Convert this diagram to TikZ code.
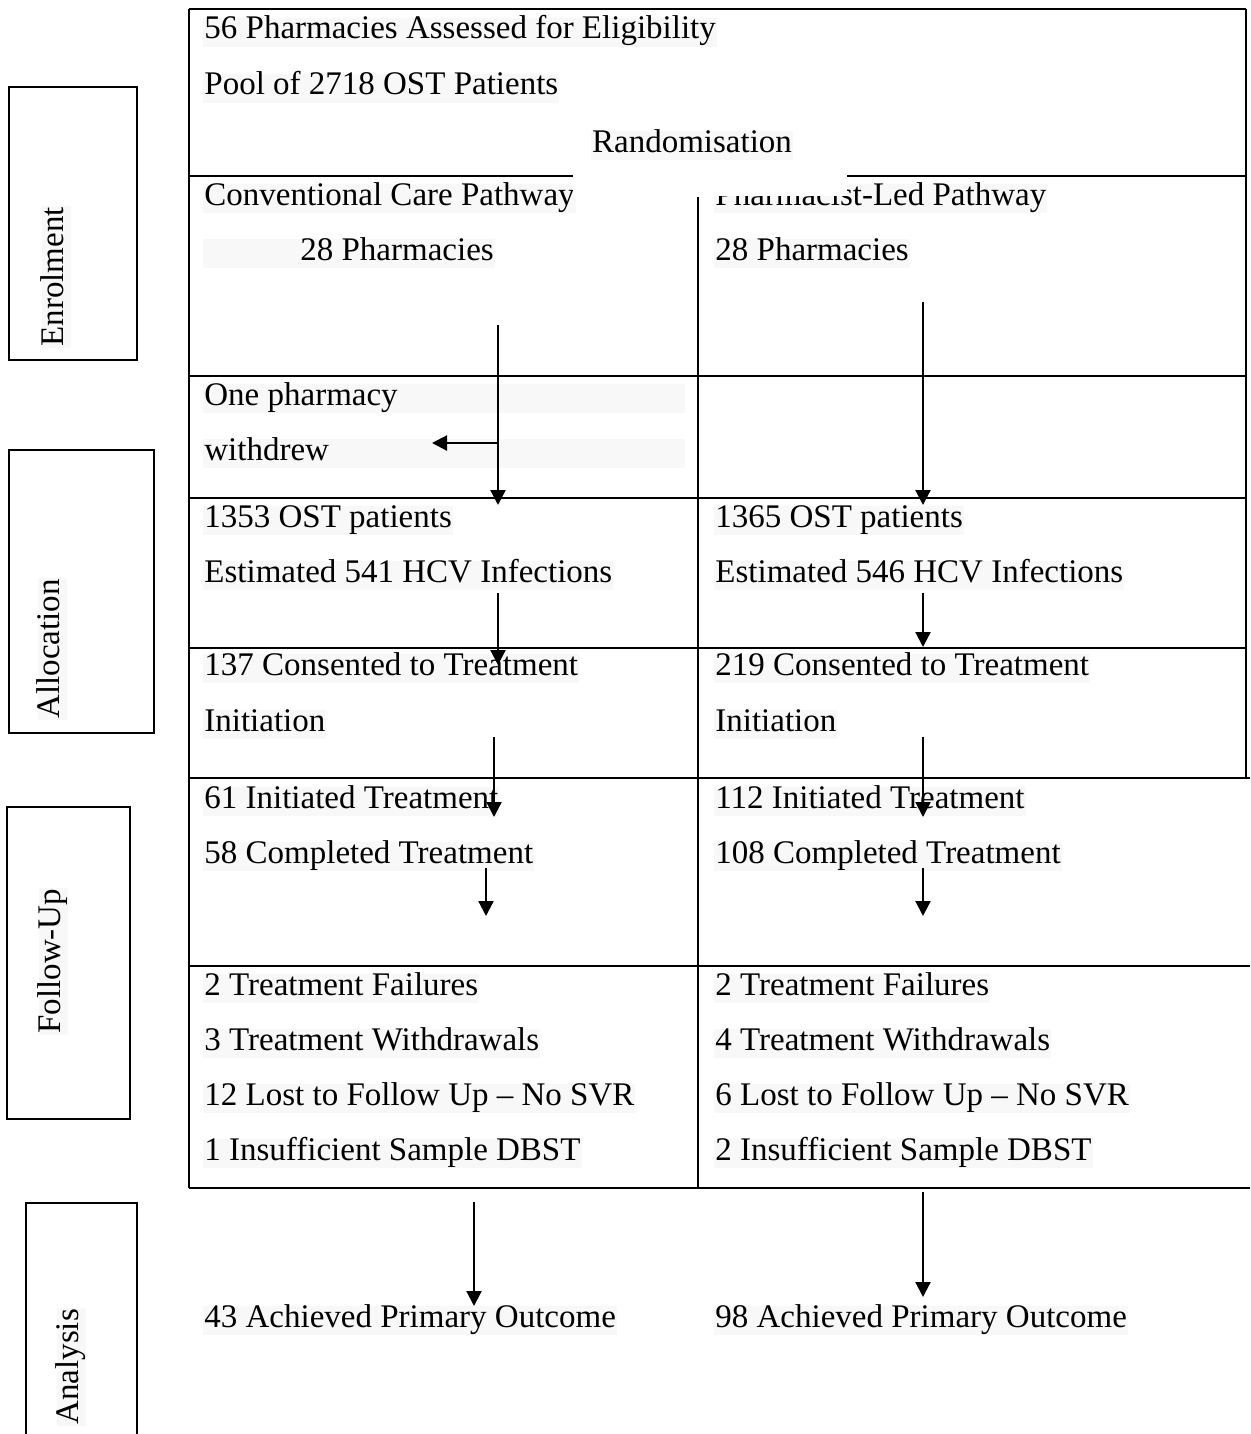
\documentclass[tikz,border=0pt]{standalone}
\usepackage{fontspec}
\setmainfont{Liberation Serif}
\usetikzlibrary{arrows.meta}
\definecolor{hl}{HTML}{F8F8F8}
\begin{document}
\begin{tikzpicture}[x=0.5pt,y=-0.5pt,
  txt/.style={anchor=base west, inner sep=0pt, inner xsep=0.5pt, fill=hl,
    text height=10.5pt, text depth=4pt, font=\fontsize{16.5}{19}\selectfont},
  rtxt/.style={txt, rotate=90},
  gridline/.style={line width=1.25pt},
  sidebox/.style={draw, line width=1.1pt},
  arr/.style={line width=1.1pt, -{Triangle[length=7.5pt,width=7.5pt]}}]
\useasboundingbox (0,0) rectangle (1250,1434);

% ---- main table grid ----
\draw[gridline] (189,9) -- (1246,9);
\draw[gridline] (189,176) -- (573,176);
\draw[gridline] (847,176) -- (1246,176);
\draw[gridline] (189,376) -- (1246,376);
\draw[gridline] (189,498) -- (1246,498);
\draw[gridline] (189,648) -- (1246,648);
\draw[gridline] (189,778) -- (1250,778);
\draw[gridline] (189,966) -- (1250,966);
\draw[gridline] (189,1188) -- (1250,1188);
\draw[gridline] (189,9) -- (189,1188);
\draw[gridline] (1246,9) -- (1246,778);
\draw[gridline] (698,197) -- (698,1188);

% ---- side stage boxes ----
\draw[sidebox] (9,87) rectangle (137,360);
\draw[sidebox] (9,450) rectangle (154,733);
\draw[sidebox] (7,807) rectangle (130,1119);
\draw[sidebox] (26,1434) -- (26,1203) -- (137,1203) -- (137,1434);
\node[rtxt] (lenr) at (63,348) {Enrolment};
\node[rtxt] (lall) at (59,720) {Allocation};
\node[rtxt] (lfol) at (60,1035) {Follow-Up};
\node[rtxt] (lana) at (78,1426) {Analysis};

% ---- top cell ----
\node[txt] (t1) at (203,39) {56 Pharmacies Assessed for Eligibility};
\node[txt] (t2) at (203,95) {Pool of 2718 OST Patients};

% ---- left column ----
\node[txt] (l1) at (203,205) {Conventional Care Pathway};
\node[txt] (l2) at (203,260) {\hspace*{48pt}28 Pharmacies};
\node[txt] (l3) at (203,405) {\makebox[240pt][l]{One pharmacy}};
\node[txt] (l4) at (203,460) {\makebox[240pt][l]{withdrew}};
\node[txt] (l5) at (203,527) {1353 OST patients};
\node[txt] (l6) at (203,582) {Estimated 541 HCV Infections};
\node[txt] (l7) at (203,675) {137 Consented to Treatment};
\node[txt] (l8) at (203,731) {Initiation};
\node[txt] (l9) at (203,808) {61 Initiated Treatment};
\node[txt] (l10) at (203,863) {58 Completed Treatment};
\node[txt] (l11) at (203,995) {2 Treatment Failures};
\node[txt] (l12) at (203,1050) {3 Treatment Withdrawals};
\node[txt] (l13) at (203,1105) {12 Lost to Follow Up – No SVR};
\node[txt] (l14) at (203,1160) {1 Insufficient Sample DBST};
\node[txt] (l15) at (203,1327) {43 Achieved Primary Outcome};

% ---- right column ----
\node[txt] (r1) at (714,205) {Pharmacist-Led Pathway};
\node[txt] (r2) at (714,260) {28 Pharmacies};
\node[txt] (r5) at (714,527) {1365 OST patients};
\node[txt] (r6) at (714,582) {Estimated 546 HCV Infections};
\node[txt] (r7) at (714,675) {219 Consented to Treatment};
\node[txt] (r8) at (714,731) {Initiation};
\node[txt] (r9) at (714,808) {112 Initiated Treatment};
\node[txt] (r10) at (714,863) {108 Completed Treatment};
\node[txt] (r11) at (714,995) {2 Treatment Failures};
\node[txt] (r12) at (714,1050) {4 Treatment Withdrawals};
\node[txt] (r13) at (714,1105) {6 Lost to Follow Up – No SVR};
\node[txt] (r14) at (714,1160) {2 Insufficient Sample DBST};
\node[txt] (r15) at (714,1327) {98 Achieved Primary Outcome};

% ---- randomisation box (white, overlapping) ----
\fill[white] (573,150) rectangle (847,196);
\node[txt, anchor=base] (rand) at (692,152) {Randomisation};

% ---- arrow coordinates ----
\coordinate (a1s) at (498,325); \coordinate (a1e) at (498,505);
\coordinate (wbr) at (498,443); \coordinate (wtip) at (432,443);
\coordinate (b1s) at (923,302); \coordinate (b1e) at (923,505);
\coordinate (a2s) at (498,593); \coordinate (a2e) at (498,665);
\coordinate (b2s) at (923,593); \coordinate (b2e) at (923,647);
\coordinate (a3s) at (494,737); \coordinate (a3e) at (494,817);
\coordinate (b3s) at (923,737); \coordinate (b3e) at (923,817);
\coordinate (a4s) at (486,868); \coordinate (a4e) at (486,916);
\coordinate (b4s) at (923,868); \coordinate (b4e) at (923,916);
\coordinate (a5s) at (474,1202); \coordinate (a5e) at (474,1306);
\coordinate (b5s) at (923,1192); \coordinate (b5e) at (923,1297);

\draw[arr] (a1s) -- (a1e);
\draw[arr] (wbr) -- (wtip);
\draw[arr] (b1s) -- (b1e);
\draw[arr] (a2s) -- (a2e);
\draw[arr] (b2s) -- (b2e);
\draw[arr] (a3s) -- (a3e);
\draw[arr] (b3s) -- (b3e);
\draw[arr] (a4s) -- (a4e);
\draw[arr] (b4s) -- (b4e);
\draw[arr] (a5s) -- (a5e);
\draw[arr] (b5s) -- (b5e);
\end{tikzpicture}
\end{document}
